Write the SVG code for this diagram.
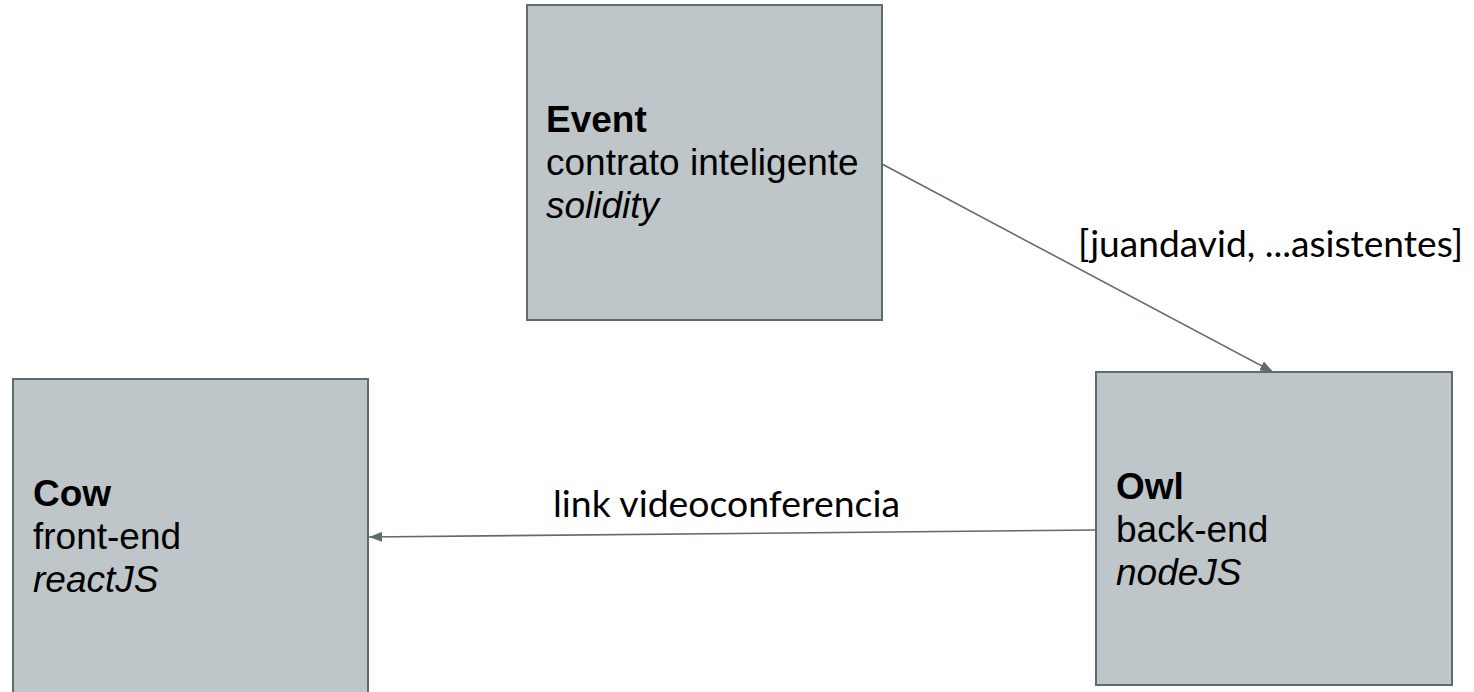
<svg xmlns="http://www.w3.org/2000/svg" width="1474" height="692" viewBox="0 0 1474 692">
<style>
.box{fill:#bfc6c9;stroke:#5f6c6c;stroke-width:2}
.t{font-family:"Liberation Sans",Arial,sans-serif;font-size:37px;fill:#000}
.b{font-weight:bold}
.i{font-style:italic}
.lbl{font-family:Lato,"Liberation Sans",sans-serif;font-size:37px;fill:#000}
.conn{stroke:#5f6c6c;stroke-width:1.6;fill:none;marker-end:url(#arr)}
</style>
<defs>
<marker id="arr" markerUnits="userSpaceOnUse" markerWidth="14" markerHeight="10" refX="13" refY="5" orient="auto">
<path d="M0,0 L13,5 L0,10 z" fill="#5f6c6c"/>
</marker>
</defs>
<rect width="1474" height="692" fill="#fff"/>
<g id="event">
<rect class="box" x="527" y="5" width="355" height="315"/>
<text class="t b" x="546" y="132">Event</text>
<text class="t" x="546" y="175">contrato inteligente</text>
<text class="t i" x="546" y="218">solidity</text>
</g>
<g id="owl">
<rect class="box" x="1096" y="372" width="356" height="313"/>
<text class="t b" x="1116" y="499">Owl</text>
<text class="t" x="1116" y="542">back-end</text>
<text class="t i" x="1116" y="585">nodeJS</text>
</g>
<g id="cow">
<rect class="box" x="13" y="379" width="355" height="316"/>
<text class="t b" x="33" y="506">Cow</text>
<text class="t" x="33" y="549">front-end</text>
<text class="t i" x="33" y="592">reactJS</text>
</g>
<g id="connectors">
<line class="conn" x1="882" y1="164" x2="1273" y2="372"/>
<line class="conn" x1="1096" y1="530" x2="369" y2="537"/>
<text class="lbl" x="553" y="517" textLength="347" lengthAdjust="spacingAndGlyphs">link videoconferencia</text>
<text class="lbl" x="1078" y="257" textLength="385" lengthAdjust="spacingAndGlyphs">[juandavid, ...asistentes]</text>
</g>
</svg>
